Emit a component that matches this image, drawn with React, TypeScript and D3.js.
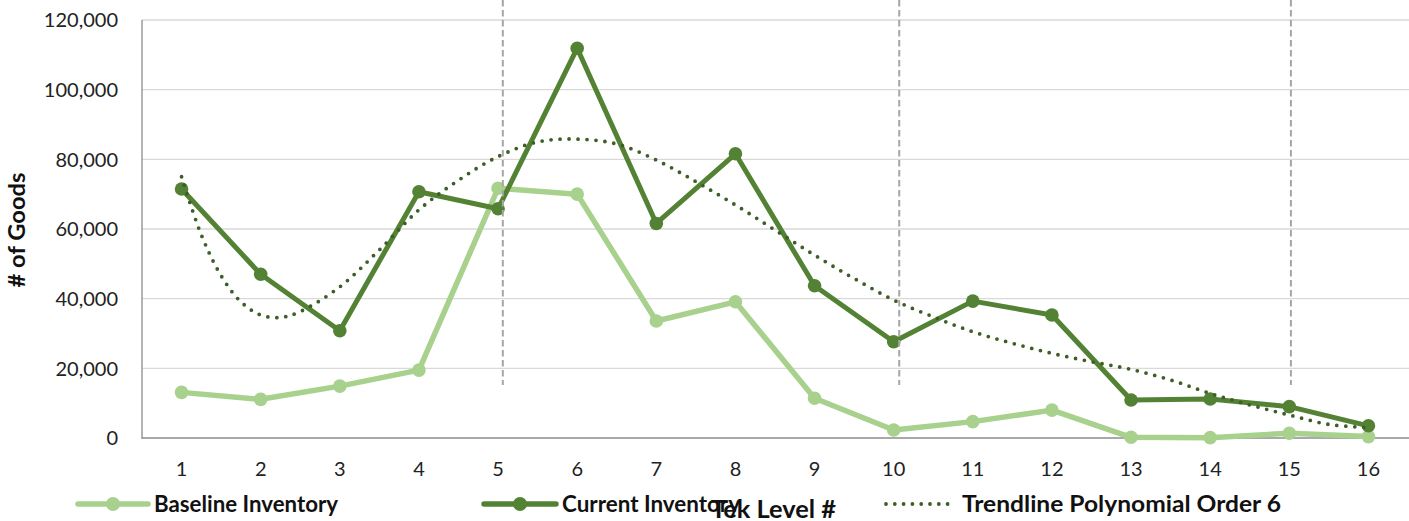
import React, { useEffect, useRef } from 'react';
import * as d3 from 'd3';

const W = 1409;
const H = 521;

const tekLevels = [1, 2, 3, 4, 5, 6, 7, 8, 9, 10, 11, 12, 13, 14, 15, 16];
const baselineInventory = [13100, 11100, 14900, 19500, 71700, 70000, 33600, 39100, 11400, 2300, 4700, 8000, 200, 100, 1350, 400];
const currentInventory = [71500, 47000, 30800, 70700, 65800, 111900, 61600, 81600, 43700, 27650, 39300, 35300, 10900, 11200, 9000, 3500];
// trendline (Excel poly-6 fit of current inventory)
const trendX = [1, 1.25, 1.5, 1.75, 2, 2.25, 2.5, 3, 3.5, 4, 4.5, 5, 5.5, 6, 6.5, 7, 7.5, 8, 8.5, 9, 9.5, 10, 10.5, 11, 11.5, 12, 12.5, 13, 13.5, 14, 14.5, 15, 15.5, 16];
const trendY = [75000, 58300, 46600, 39100, 35300, 34600, 36300, 43400, 54000, 65500, 74000, 80800, 85000, 85800, 84400, 79800, 73600, 66900, 59700, 52500, 45800, 39600, 34800, 30500, 27200, 24300, 21900, 19700, 16650, 12800, 9500, 6600, 3900, 3000];
const yTicks = [0, 20000, 40000, 60000, 80000, 100000, 120000];
const phaseMarkers = [5.06, 10.07, 15.02];

const LIGHT = '#a9d18e';
const DARK = '#548235';
const TREND = '#3d5f26';
const FONT = 'Lato, "Open Sans", sans-serif';

export default function App() {
  const svgRef = useRef<SVGSVGElement>(null);

  useEffect(() => {
    if (!svgRef.current) return;
    const svg = d3.select(svgRef.current);
    svg.selectAll('*').remove();

    const left = 142, right = 1408, top = 20, bottom = 438;
    const x = d3.scaleLinear().domain([0.5, 16.5]).range([left, right]);
    const y = d3.scaleLinear().domain([0, 120000]).range([bottom, top]);

    // gridlines
    svg.append('g')
      .selectAll('line')
      .data(yTicks.filter(d => d > 0))
      .join('line')
      .attr('x1', left).attr('x2', W)
      .attr('y1', d => y(d)).attr('y2', d => y(d))
      .attr('stroke', '#d9d9d9').attr('stroke-width', 1.3);

    // axes lines
    svg.append('line').attr('x1', left).attr('x2', left).attr('y1', top).attr('y2', bottom + 1)
      .attr('stroke', '#8c8c8c').attr('stroke-width', 1.3);
    svg.append('line').attr('x1', left).attr('x2', W).attr('y1', bottom).attr('y2', bottom)
      .attr('stroke', '#8c8c8c').attr('stroke-width', 1.3);

    // y tick labels
    svg.append('g')
      .attr('font-family', FONT).attr('font-size', 20).attr('fill', '#222')
      .attr('text-anchor', 'end')
      .selectAll('text')
      .data(yTicks)
      .join('text')
      .attr('x', 118).attr('y', d => y(d)).attr('dy', '0.36em')
      .text(d => d3.format(',')(d));

    // x tick labels
    svg.append('g')
      .attr('font-family', FONT).attr('font-size', 20).attr('fill', '#222')
      .attr('text-anchor', 'middle')
      .selectAll('text')
      .data(tekLevels)
      .join('text')
      .attr('x', d => x(d)).attr('y', 476)
      .text(d => d);

    const line = d3.line<number>().x((_, i) => x(tekLevels[i])).y(d => y(d));

    const drawSeries = (vals: number[], color: string, width: number, r: number) => {
      svg.append('path').datum(vals)
        .attr('d', line)
        .attr('fill', 'none').attr('stroke', color)
        .attr('stroke-width', width).attr('stroke-linejoin', 'round');
      svg.append('g').selectAll('circle').data(vals).join('circle')
        .attr('cx', (_, i) => x(tekLevels[i])).attr('cy', d => y(d))
        .attr('r', r).attr('fill', color);
    };
    drawSeries(baselineInventory, LIGHT, 5.5, 6.8);
    drawSeries(currentInventory, DARK, 5, 6.8);

    // trendline
    const trendLine = d3.line<number>()
      .x((_, i) => x(trendX[i])).y(d => y(d))
      .curve(d3.curveCatmullRom);
    svg.append('path').datum(trendY)
      .attr('d', trendLine)
      .attr('fill', 'none').attr('stroke', TREND)
      .attr('stroke-width', 3.8).attr('stroke-linecap', 'round')
      .attr('stroke-dasharray', '0 9');

    // phase markers
    svg.append('g').selectAll('line').data(phaseMarkers).join('line')
      .attr('x1', d => x(d)).attr('x2', d => x(d))
      .attr('y1', 0).attr('y2', 385)
      .attr('stroke', '#a6a6a6').attr('stroke-width', 2)
      .attr('stroke-dasharray', '6.5 3.5');

    // y axis title
    svg.append('text')
      .attr('transform', `translate(25,${(top + bottom) / 2 + 1}) rotate(-90)`)
      .attr('text-anchor', 'middle')
      .attr('font-family', FONT).attr('font-weight', 'bold').attr('font-size', 22).attr('fill', '#111')
      .attr('textLength', 115).attr('lengthAdjust', 'spacingAndGlyphs')
      .text('# of Goods');

    // legend
    const legendY = 504;
    const legend = [
      { label: 'Baseline Inventory', color: LIGHT, x0: 78, x1: 148, tx: 154, len: 184, kind: 'line' },
      { label: 'Current Inventory', color: DARK, x0: 484, x1: 556, tx: 562, len: 178, kind: 'line' },
      { label: 'Trendline Polynomial Order 6', color: TREND, x0: 886, x1: 948, tx: 962, len: 319, kind: 'dots' },
    ];
    legend.forEach(l => {
      if (l.kind === 'line') {
        svg.append('line').attr('x1', l.x0).attr('x2', l.x1).attr('y1', legendY).attr('y2', legendY)
          .attr('stroke', l.color).attr('stroke-width', 5.5).attr('stroke-linecap', 'round');
        svg.append('circle').attr('cx', (l.x0 + l.x1) / 2).attr('cy', legendY).attr('r', 7).attr('fill', l.color);
      } else {
        svg.append('line').attr('x1', l.x0).attr('x2', l.x1).attr('y1', legendY).attr('y2', legendY)
          .attr('stroke', l.color).attr('stroke-width', 3.8).attr('stroke-linecap', 'round')
          .attr('stroke-dasharray', '0 8.8');
      }
      svg.append('text').attr('x', l.tx).attr('y', legendY).attr('dy', '0.36em')
        .attr('font-family', FONT).attr('font-weight', 'bold').attr('font-size', 22).attr('fill', '#111')
        .attr('textLength', l.len).attr('lengthAdjust', 'spacingAndGlyphs')
        .text(l.label);
    });

    // x axis title (overlaps legend, as in the source)
    svg.append('text')
      .attr('x', 711).attr('y', 518)
      .attr('font-family', FONT).attr('font-weight', 'bold').attr('font-size', 24).attr('fill', '#111')
      .attr('textLength', 125).attr('lengthAdjust', 'spacingAndGlyphs')
      .text('Tek Level #');
  }, []);

  return (
    <svg ref={svgRef} width={W} height={H}
      style={{ position: 'absolute', left: 0, top: 0, background: '#fff' }} />
  );
}
